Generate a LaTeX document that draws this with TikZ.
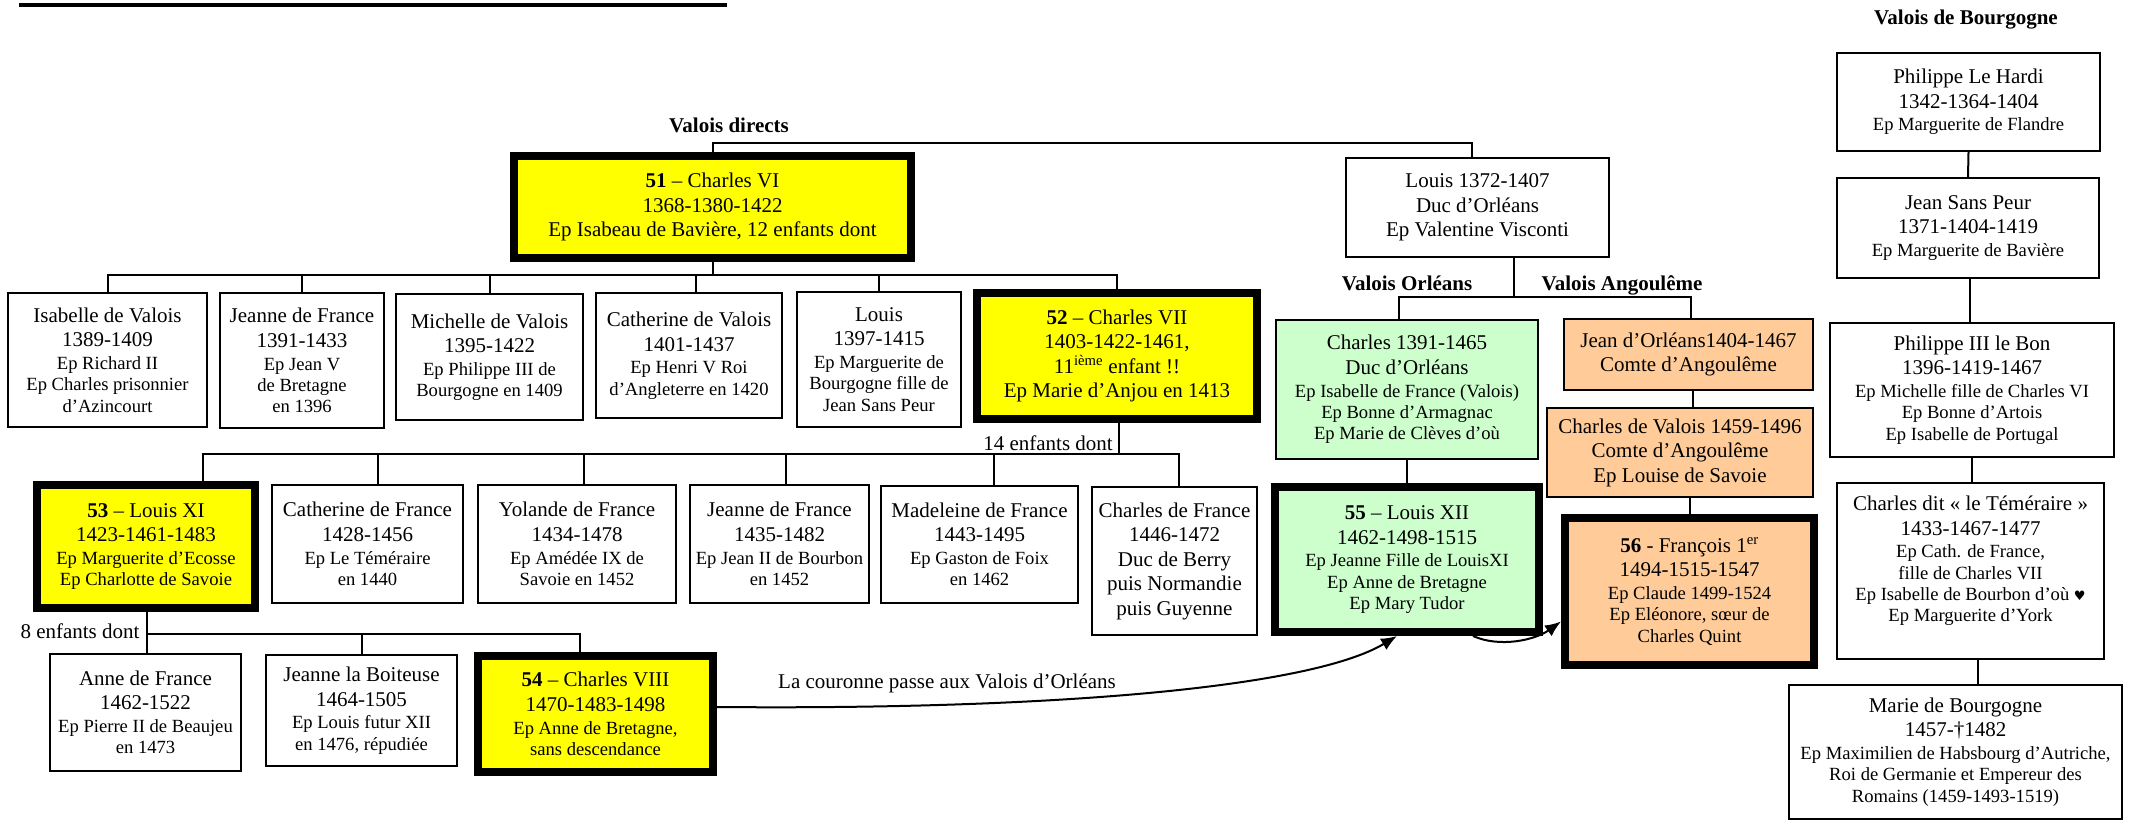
\documentclass[tikz,border=0pt]{standalone}
\usepackage{fontspec}
\setmainfont{Liberation Serif}
\newfontfamily\symfont{DejaVu Sans}
\usetikzlibrary{arrows.meta}
\definecolor{kyellow}{HTML}{FFFF00}
\definecolor{kgreen}{HTML}{CCFFCC}
\definecolor{korange}{HTML}{FFCC99}
\newcommand\fbig{\fontsize{21}{24.5}\selectfont}
\newcommand\fsml{\fontsize{18.6}{21.3}\selectfont}
\newcommand\sm[1]{{\fsml #1}}
\newcommand\nls{\\[-1.8pt]}
\newcommand\nss{\\[-3.2pt]}
\tikzset{
  box/.style={draw=black, line width=2pt, rectangle, inner sep=1pt, align=center, font=\fbig, fill=white},
  kingbox/.style={line width=8pt},
  conn/.style={draw=black, line width=2pt},
  lab/.style={font=\fbig\bfseries, inner sep=0pt},
  txt/.style={font=\fbig, inner sep=0pt},
  arr/.style={conn, -{Latex[length=16pt,width=13pt]}},
}
\begin{document}
\begin{tikzpicture}[x=1pt,y=-1pt]
\useasboundingbox (0,0) rectangle (2130,822);
% title underline (title itself cut off)
\draw[line width=4pt] (19,5) -- (727,5);

% ---- Valois directs
\node[box, kingbox, fill=kyellow, minimum width=397pt, minimum height=102pt] (cVI) at (712.5,207)
  {\textbf{51} – Charles VI\\1368-1380-1422\\Ep Isabeau de Bavière, 12 enfants dont};
\node[box, minimum width=199pt, minimum height=134pt] (isab) at (107.5,360)
  {Isabelle de Valois\\1389-1409\nls\sm{Ep Richard II}\nss\sm{Ep Charles prisonnier}\nss\sm{d’Azincourt}};
\node[box, minimum width=164pt, minimum height=135pt] (jeanneA) at (302,360.5)
  {Jeanne de France\\1391-1433\nls\sm{Ep Jean V}\nss\sm{de Bretagne}\nss\sm{en 1396}};
\node[box, minimum width=187pt, minimum height=126pt] (mich) at (489.5,357)
  {Michelle de Valois\\1395-1422\nls\sm{Ep Philippe III de}\nss\sm{Bourgogne en 1409}};
\node[box, minimum width=186pt, minimum height=125pt] (cathV) at (689,355.5)
  {Catherine de Valois\\1401-1437\nls\sm{Ep Henri V Roi}\nss\sm{d’Angleterre en 1420}};
\node[box, minimum width=164pt, minimum height=135pt] (louis) at (879,359.5)
  {Louis\\1397-1415\nls\sm{Ep Marguerite de}\nss\sm{Bourgogne fille de}\nss\sm{Jean Sans Peur}};
\node[box, kingbox, fill=kyellow, minimum width=280pt, minimum height=126pt] (cVII) at (1117,356)
  {\textbf{52} – Charles VII\\1403-1422-1461,\\11\textsuperscript{ième} enfant !!\\Ep Marie d’Anjou en 1413};

\node[box, kingbox, fill=kyellow, minimum width=218pt, minimum height=123pt] (louisXI) at (146,546.5)
  {\textbf{53} – Louis XI\\1423-1461-1483\nls\sm{Ep Marguerite d’Ecosse}\nss\sm{Ep Charlotte de Savoie}};
\node[box, minimum width=191pt, minimum height=118pt] (cathF) at (367.5,544)
  {Catherine de France\\1428-1456\nls\sm{Ep Le Téméraire}\nss\sm{en 1440}};
\node[box, minimum width=198pt, minimum height=118pt] (yol) at (577,544)
  {Yolande de France\\1434-1478\nls\sm{Ep Amédée IX de}\nss\sm{Savoie en 1452}};
\node[box, minimum width=179pt, minimum height=118pt] (jeanneB) at (779.5,544)
  {Jeanne de France\\1435-1482\nls\sm{Ep Jean II de Bourbon}\nss\sm{en 1452}};
\node[box, minimum width=197pt, minimum height=117pt] (mad) at (979.5,544.5)
  {Madeleine de France\\1443-1495\nls\sm{Ep Gaston de Foix}\nss\sm{en 1462}};
\node[box, minimum width=165pt, minimum height=148pt] (charlesF) at (1174.5,561)
  {Charles de France\\1446-1472\\Duc de Berry\\puis Normandie\\puis Guyenne};

\node[box, minimum width=191pt, minimum height=117pt] (anne) at (145.5,712.5)
  {Anne de France\\1462-1522\nls\sm{Ep Pierre II de Beaujeu}\nss\sm{en 1473}};
\node[box, minimum width=191pt, minimum height=111pt] (boit) at (361.5,710.5)
  {Jeanne la Boiteuse\\1464-1505\nls\sm{Ep Louis futur XII}\nss\sm{en 1476, répudiée}};
\node[box, kingbox, fill=kyellow, minimum width=235pt, minimum height=116pt] (cVIII) at (595.5,714)
  {\textbf{54} – Charles VIII\\1470-1483-1498\nls\sm{Ep Anne de Bretagne,}\nss\sm{sans descendance}};

% ---- Orléans / Angoulême
\node[box, minimum width=263pt, minimum height=99pt] (louisO) at (1477.5,207.5)
  {Louis 1372-1407\\Duc d’Orléans\\Ep Valentine Visconti};
\node[box, fill=kgreen, minimum width=262pt, minimum height=139pt] (charlesO) at (1407,389.5)
  {Charles 1391-1465\\Duc d’Orléans\nls\sm{Ep Isabelle de France (Valois)}\nss\sm{Ep Bonne d’Armagnac}\nss\sm{Ep Marie de Clèves d’où}};
\node[box, kingbox, fill=kgreen, minimum width=264pt, minimum height=145pt] (louisXII) at (1407,559.5)
  {\textbf{55} – Louis XII\\1462-1498-1515\nls\sm{Ep Jeanne Fille de LouisXI}\nss\sm{Ep Anne de Bretagne}\nss\sm{Ep Mary Tudor}};
\node[box, fill=korange, minimum width=249pt, minimum height=71pt] (jeanO) at (1688.5,354.5)
  {Jean d’Orléans1404-1467\\Comte d’Angoulême};
\node[box, fill=korange, minimum width=266pt, minimum height=89pt] (charlesV) at (1680,452.5)
  {Charles de Valois 1459-1496\\Comte d’Angoulême\\Ep Louise de Savoie};
\node[box, kingbox, fill=korange, minimum width=249pt, minimum height=147pt] (francois) at (1689.5,591.5)
  {\textbf{56} - François 1\textsuperscript{er}\\1494-1515-1547\nls\sm{Ep Claude 1499-1524}\nss\sm{Ep Eléonore, sœur de}\nss\sm{Charles Quint}};

% ---- Bourgogne
\node[box, minimum width=263pt, minimum height=98pt] (philH) at (1968.5,102)
  {Philippe Le Hardi\\1342-1364-1404\nls\sm{Ep Marguerite de Flandre}};
\node[box, minimum width=262pt, minimum height=100pt] (jeanSP) at (1968,228)
  {Jean Sans Peur\\1371-1404-1419\nls\sm{Ep Marguerite de Bavière}};
\node[box, minimum width=284pt, minimum height=134pt] (phil3) at (1972,390)
  {Philippe III le Bon\\1396-1419-1467\nls\sm{Ep Michelle fille de Charles VI}\nss\sm{Ep Bonne d’Artois}\nss\sm{Ep Isabelle de Portugal}};
\node[box, minimum width=267pt, minimum height=176pt] (charlesT) at (1970.5,571)
  {Charles dit « le Téméraire »\\1433-1467-1477\nls\sm{Ep Cath. de France,}\nss\sm{fille de Charles VII}\nss\sm{Ep Isabelle de Bourbon d’où {\symfont\fontsize{13}{13}\selectfont ♥}}\nss\sm{Ep Marguerite d’York}\\\mbox{}};
\node[box, minimum width=333pt, minimum height=134pt] (marie) at (1955.5,752)
  {Marie de Bourgogne\\1457-†1482\nls\sm{Ep Maximilien de Habsbourg d’Autriche,}\nss\sm{Roi de Germanie et Empereur des}\nss\sm{Romains (1459-1493-1519)}};

% ---- labels
\node[lab] (lDirects) at (729,125) {Valois directs};
\node[lab] (lOrleans) at (1407,283) {Valois Orléans};
\node[lab] (lAngou) at (1622,285) {Valois Angoulême};
\node[lab] (lBourg) at (1966,20) {Valois de Bourgogne};
\node[txt] (l14) at (1048,443) {14 enfants dont};
\node[txt] (l8) at (80,631) {8 enfants dont};
\node[txt] (lCour) at (947,683) {La couronne passe aux Valois d’Orléans};

% ---- connectors
\draw[conn] (cVI.north) -- ++(0,-9) -| ([xshift=-6pt]louisO.north);
\coordinate (j1) at (712.5,275);
\draw[conn] (cVI.south) -- (j1);
\draw[conn] (isab.north) |- (j1) -| (cVII.north);
\draw[conn] (jeanneA.north) -- (jeanneA.north |- j1);
\draw[conn] (mich.north) -- (mich.north |- j1);
\draw[conn] ([xshift=7pt]cathV.north) -- ([xshift=7pt]cathV.north |- j1);
\draw[conn] (louis.north) -- (louis.north |- j1);

\coordinate (j2) at (1119,454);
\draw[conn] ([xshift=2pt]cVII.south) -- (j2);
\draw[conn] ([xshift=57pt]louisXI.north) |- (j2) -| ([xshift=4pt]charlesF.north);
\draw[conn] ([xshift=10pt]cathF.north) -- ([xshift=10pt]cathF.north |- j2);
\draw[conn] ([xshift=7pt]yol.north) -- ([xshift=7pt]yol.north |- j2);
\draw[conn] ([xshift=6pt]jeanneB.north) -- ([xshift=6pt]jeanneB.north |- j2);
\draw[conn] ([xshift=14pt]mad.north) -- ([xshift=14pt]mad.north |- j2);

\coordinate (j3) at (147,634);
\draw[conn] ([xshift=1pt]louisXI.south) -- ([xshift=1pt]louisXI.south |- anne.north);
\draw[conn] (j3) -| ([xshift=-16pt]cVIII.north);
\draw[conn] (boit.north) -- (boit.north |- j3);

\draw[conn] ([xshift=36.5pt]louisO.south) -- ++(0,39) coordinate (j4);
\draw[conn] ([xshift=-8pt]charlesO.north) |- (j4) -| ([xshift=2.5pt]jeanO.north);
\draw[conn] (charlesO.south) -- (louisXII.north);
\draw[conn] ([xshift=4.5pt]jeanO.south) -- ([xshift=4.5pt]jeanO.south |- charlesV.north);
\draw[conn] (francois.north) -- (francois.north |- charlesV.south);

\draw[conn] (philH.south) -- (jeanSP.north);
\draw[conn] ([xshift=2pt]jeanSP.south) -- ([xshift=2pt]jeanSP.south |- phil3.north);
\draw[conn] ([xshift=1.5pt]charlesT.north) -- ([xshift=1.5pt]charlesT.north |- phil3.south);
\draw[conn] ([xshift=7.5pt]charlesT.south) -- ([xshift=7.5pt]charlesT.south |- marie.north);

\draw[arr] ([yshift=7pt]cVIII.east) .. controls (1050,710) and (1310,688) .. ([xshift=-10pt]louisXII.south);
\draw[arr] ([xshift=66pt]louisXII.south) .. controls (1500,648) and (1535,640) .. ([yshift=-30pt]francois.west);
\end{tikzpicture}
\end{document}
